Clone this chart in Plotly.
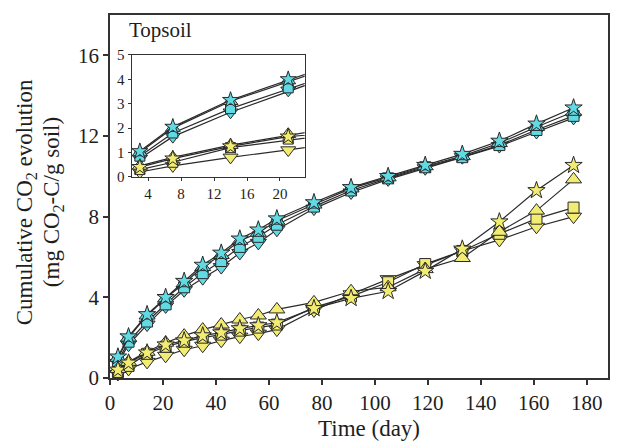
import plotly.graph_objects as go

days = [3, 7, 14, 21, 28, 35, 42, 49, 56, 63, 77, 91, 105, 119, 133, 147, 161, 175]

cyan_star = [1.05, 2.05, 3.15, 4.0, 4.8, 5.6, 6.2, 6.9, 7.35, 7.9, 8.7, 9.45, 10.0, 10.55, 11.1, 11.75, 12.6, 13.4]
cyan_triup = [1.0, 2.0, 3.1, 3.95, 4.7, 5.5, 6.1, 6.8, 7.2, 7.8, 8.6, 9.4, 9.95, 10.5, 11.0, 11.65, 12.45, 13.2]
cyan_square = [0.85, 1.8, 2.8, 3.65, 4.5, 5.2, 5.8, 6.5, 7.0, 7.6, 8.5, 9.3, 9.9, 10.45, 10.95, 11.55, 12.3, 13.0]
cyan_tridown = [0.75, 1.65, 2.65, 3.55, 4.35, 4.95, 5.5, 6.2, 6.7, 7.35, 8.4, 9.2, 9.85, 10.4, 10.95, 11.5, 12.2, 12.9]

yel_star = [0.4, 0.75, 1.25, 1.65, 1.85, 2.1, 2.25, 2.45, 2.6, 2.75, 3.45, 3.95, 4.3, 5.3, 6.4, 7.75, 9.3, 10.55]
yel_triup = [0.45, 0.8, 1.3, 1.75, 2.1, 2.4, 2.65, 2.9, 3.1, 3.4, 3.75, 4.3, 4.5, 5.4, 5.95, 7.25, 8.3, 9.85]
yel_square = [0.3, 0.6, 1.2, 1.55, 1.8, 2.0, 2.15, 2.35, 2.5, 2.65, 3.5, 4.05, 4.75, 5.65, 6.3, 7.15, 7.9, 8.45]
yel_tridown = [0.2, 0.45, 0.8, 1.1, 1.4, 1.6, 1.85, 2.05, 2.2, 2.4, 3.35, 4.15, 4.9, 5.6, 6.3, 6.85, 7.5, 8.0]

main_xticks = [0, 20, 40, 60, 80, 100, 120, 140, 160, 180]
main_yticks = [0, 4, 8, 12, 16]
inset_xticks = [4, 8, 12, 16, 20]
inset_yticks = [0, 1, 2, 3, 4, 5]

CYAN = "rgb(98,218,228)"
YEL = "rgb(242,236,115)"
EDGE = "#2a2a2a"
LINE = "#2a2a2a"
FONT = "Liberation Serif"
TXT = "#1e1e1e"

series = [
    (cyan_tridown, "triangle-down", CYAN, 14),
    (cyan_square, "square", CYAN, 11),
    (cyan_triup, "triangle-up", CYAN, 14),
    (cyan_star, "star", CYAN, 13),
    (yel_tridown, "triangle-down", YEL, 14),
    (yel_square, "square", YEL, 11),
    (yel_triup, "triangle-up", YEL, 14),
    (yel_star, "star", YEL, 13),
]

fig = go.Figure()
for vals, sym, col, sz in series:
    fig.add_trace(go.Scatter(
        x=days, y=vals, mode="lines+markers", xaxis="x", yaxis="y",
        line=dict(color=LINE, width=1.2),
        marker=dict(symbol=sym, size=sz, color=col, line=dict(color=EDGE, width=1)),
        cliponaxis=False, showlegend=False, hoverinfo="skip"))
for vals, sym, col, sz in series:
    fig.add_trace(go.Scatter(
        x=days, y=vals, mode="lines+markers", xaxis="x2", yaxis="y2",
        line=dict(color=LINE, width=1.2),
        marker=dict(symbol=sym, size=sz - 1, color=col, line=dict(color=EDGE, width=1)),
        cliponaxis=True, showlegend=False, hoverinfo="skip"))

base = dict(showline=True, linecolor="#333", mirror=True,
            ticks="outside", tickcolor="#333", showgrid=False, zeroline=False)

fig.update_layout(
    width=617, height=446,
    margin=dict(l=110, r=7, t=7, b=68),
    paper_bgcolor="white", plot_bgcolor="white",
    font=dict(family=FONT, color=TXT),
    xaxis=dict(range=[0, 188], domain=[0, 1], tickvals=main_xticks, ticklen=5, tickwidth=1.5,
               linewidth=1.5, tickfont=dict(size=21), **base),
    yaxis=dict(range=[0, 18], domain=[0, 1], tickvals=main_yticks, ticklen=5, tickwidth=1.5,
               linewidth=1.5, tickfont=dict(size=21), **base),
    xaxis2=dict(range=[2, 23], domain=[0.0434, 0.391], anchor="y2", tickvals=inset_xticks,
                ticklen=3, tickwidth=1, linewidth=1, tickfont=dict(size=15), **base),
    yaxis2=dict(range=[0, 5], domain=[0.554, 0.890], anchor="x2", tickvals=inset_yticks,
                ticklen=3, tickwidth=1, linewidth=1, tickfont=dict(size=15), **base),
    annotations=[
        dict(text="Cumulative CO<sub>2</sub> evolution", xref="paper", yref="paper",
             x=-0.168, y=0.485, xanchor="center", yanchor="middle", textangle=-90,
             showarrow=False, font=dict(size=23, family=FONT, color=TXT)),
        dict(text="(mg CO<sub>2</sub>-C/g soil)", xref="paper", yref="paper",
             x=-0.114, y=0.485, xanchor="center", yanchor="middle", textangle=-90,
             showarrow=False, font=dict(size=23, family=FONT, color=TXT)),
        dict(text="Time (day)", xref="paper", yref="paper",
             x=0.52, y=-0.14, xanchor="center", yanchor="middle",
             showarrow=False, font=dict(size=23, family=FONT, color=TXT)),
        dict(text="Topsoil", xref="paper", yref="paper",
             x=0.034, y=0.96, xanchor="left", yanchor="middle",
             showarrow=False, font=dict(size=21, family=FONT, color=TXT)),
    ],
)

fig.write_html("out.html")
